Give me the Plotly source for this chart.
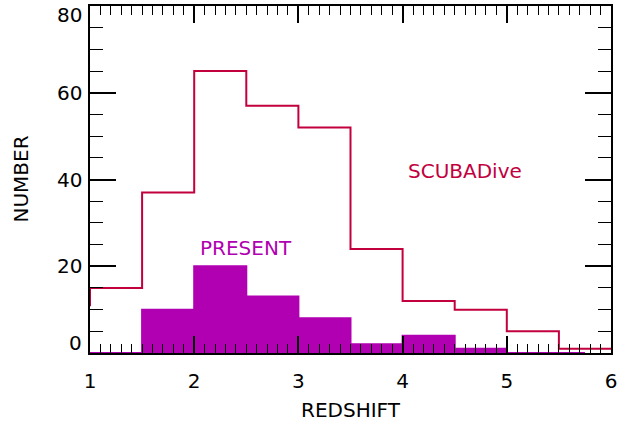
import plotly.graph_objects as go

# Data: histogram bin edges and counts
scuba_edges = [0.5, 1.0, 1.5, 2.0, 2.5, 3.0, 3.5, 4.0, 4.5, 5.0, 5.5, 6.0, 6.5]
scuba_counts = [11, 15, 37, 65, 57, 52, 24, 12, 10, 5, 1, 1]

present_edges = [1.0, 1.5, 2.0, 2.5, 3.0, 3.5, 4.0, 4.5, 5.0, 5.5, 5.75]
present_counts = [0, 10, 20, 13, 8, 2, 4, 1, 0, 0]

y_ticks = [0, 20, 40, 60, 80]
y_tick_labels = ["0", "20", "40", "60", "80"]

RED = "#C2003E"
MAG = "#B100B1"
FONT = "DejaVu Sans"
FSIZE = 20

fig = go.Figure()

# PRESENT filled bars
centers = [(present_edges[i] + present_edges[i + 1]) / 2 for i in range(len(present_counts))]
widths = [present_edges[i + 1] - present_edges[i] for i in range(len(present_counts))]
fig.add_trace(go.Bar(x=centers, y=present_counts, width=widths,
                     marker=dict(color=MAG, line=dict(width=0)), showlegend=False))
# PRESENT outline (zero line visible where counts are 0)
fig.add_trace(go.Scatter(x=present_edges, y=present_counts + [present_counts[-1]],
                         mode="lines", line=dict(color=MAG, width=2, shape="hv"),
                         showlegend=False, cliponaxis=False))

# SCUBADive step line
fig.add_trace(go.Scatter(x=scuba_edges, y=scuba_counts + [scuba_counts[-1]],
                         mode="lines", line=dict(color=RED, width=2, shape="hv"),
                         showlegend=False))

fig.add_annotation(x=2.5, y=24.2, text="PRESENT", showarrow=False,
                   font=dict(family=FONT, size=FSIZE, color=MAG))
fig.add_annotation(x=4.6, y=42, text="SCUBADive", showarrow=False,
                   font=dict(family=FONT, size=FSIZE, color=RED))

# y tick labels (end labels nudged inward as in the original)
for v, lab in zip(y_ticks, y_tick_labels):
    shift = 0
    if v == max(y_ticks):
        shift = -9
    elif v == min(y_ticks):
        shift = 10
    fig.add_annotation(x=0, xref="paper", y=v, yref="y", text=lab, showarrow=False,
                       xanchor="right", yanchor="middle", xshift=-6, yshift=shift,
                       font=dict(family=FONT, size=FSIZE, color="black"))

# y axis title
fig.add_annotation(x=-70 / 521, xref="paper", y=0.5, yref="paper", text="NUMBER",
                   showarrow=False, textangle=-90, xanchor="center", yanchor="middle",
                   font=dict(family=FONT, size=FSIZE, color="black"))

fig.update_layout(
    width=637, height=431,
    margin=dict(l=90, r=26, t=6, b=78),
    paper_bgcolor="white", plot_bgcolor="white",
    bargap=0,
    font=dict(family=FONT, size=FSIZE, color="black"),
    xaxis=dict(range=[1, 6], dtick=1, tick0=1, ticks="inside", ticklen=17, tickwidth=1.5,
               tickcolor="black", showline=True, linecolor="black", linewidth=2,
               mirror="allticks", showgrid=False, zeroline=False, automargin=False,
               minor=dict(dtick=0.1, ticks="inside", ticklen=9, tickwidth=1.2,
                          tickcolor="black", showgrid=False),
               title=dict(text="REDSHIFT", standoff=11, font=dict(family=FONT, size=FSIZE)),
               ticklabelstandoff=9),
    yaxis=dict(range=[0, 80], dtick=20, ticks="inside", ticklen=26, tickwidth=1.5,
               tickcolor="black", showline=True, linecolor="black", linewidth=2,
               mirror="allticks", showgrid=False, zeroline=False, automargin=False,
               showticklabels=False,
               minor=dict(dtick=5, ticks="inside", ticklen=13, tickwidth=1.2,
                          tickcolor="black", showgrid=False)),
)

fig.write_html("out.html", config={"displayModeBar": False},
               post_script="document.body.style.margin='0';document.body.style.padding='0';")
